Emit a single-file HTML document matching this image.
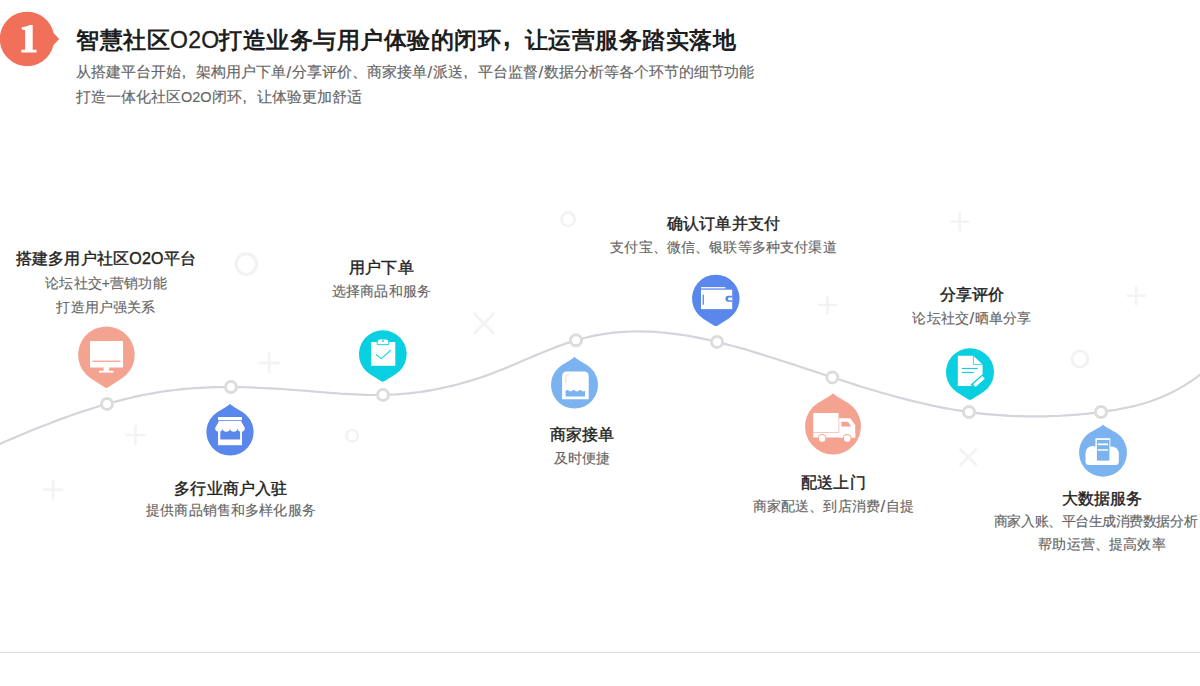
<!DOCTYPE html>
<html><head><meta charset="utf-8"><style>
html,body{margin:0;padding:0;background:#fff;}
body{width:1200px;height:686px;position:relative;overflow:hidden;font-family:"Liberation Sans",sans-serif;}
.title{position:absolute;left:76px;top:24.7px;font-size:23px;line-height:30px;color:#1e1e1e;font-weight:700;letter-spacing:0.5px;white-space:nowrap;}
.sub{position:absolute;left:76px;font-size:14.5px;line-height:20px;color:#666;-webkit-text-stroke:0.15px #666;white-space:nowrap;}
.lt{position:absolute;width:300px;text-align:center;font-size:16.25px;line-height:24px;color:#222;font-weight:400;-webkit-text-stroke:0.4px #222;letter-spacing:0.2px;white-space:nowrap;}
.ls{position:absolute;width:300px;text-align:center;font-size:14px;line-height:22px;color:#666;-webkit-text-stroke:0.15px #666;letter-spacing:0.15px;white-space:nowrap;}
.o2o{font-weight:400;-webkit-text-stroke:0.35px #1e1e1e;letter-spacing:0.3px;}
.cm{display:inline-block;font-size:27px;line-height:10px;width:22px;margin-left:1.5px;position:relative;top:-2px;}
.cm2{display:inline-block;font-size:17px;line-height:10px;width:14.5px;margin-left:0.5px;}
.sl{padding:0 0.6px;font-size:17px;line-height:10px;position:relative;top:1px;}
svg{position:absolute;left:0;top:0;}
.hr{position:absolute;left:0;top:652px;width:1200px;height:1px;background:#dcdcdc;}
</style></head><body>
<svg width="1200" height="686" viewBox="0 0 1200 686">
<circle cx="246.3" cy="264.1" r="10.3" fill="none" stroke="#f2f2f2" stroke-width="3.0"/><circle cx="568.1" cy="219.2" r="6.7" fill="none" stroke="#f2f2f2" stroke-width="2.6"/><circle cx="352.1" cy="435.8" r="5.8" fill="none" stroke="#f2f2f2" stroke-width="2.2"/><circle cx="1079.9" cy="359.0" r="8.0" fill="none" stroke="#f2f2f2" stroke-width="2.6"/><path d="M269.1,352.4v21.0M258.6,362.9h21.0" stroke="#f3f3f3" stroke-width="2.6" fill="none"/><path d="M135.4,425.0v20.0M125.4,435.0h20.0" stroke="#f3f3f3" stroke-width="2.6" fill="none"/><path d="M53.2,479.6v20.0M43.2,489.6h20.0" stroke="#f3f3f3" stroke-width="2.6" fill="none"/><path d="M827.5,295.5v19.0M818.0,305.0h19.0" stroke="#f3f3f3" stroke-width="2.6" fill="none"/><path d="M959.8,212.2v19.0M950.3,221.7h19.0" stroke="#f3f3f3" stroke-width="2.6" fill="none"/><path d="M1136.2,286.2v19.0M1126.7,295.7h19.0" stroke="#f3f3f3" stroke-width="2.6" fill="none"/><path d="M473.5,313.0l21.0,21.0M494.5,313.0l-21.0,21.0" stroke="#f3f3f3" stroke-width="2.8" fill="none"/><path d="M959.8,448.7l17.0,17.0M976.8,448.7l-17.0,17.0" stroke="#f3f3f3" stroke-width="2.8" fill="none"/>
<path d="M-10.0,448.4 C-8.3,447.7 -3.3,445.4 0.0,444.0 C3.3,442.5 6.7,441.0 10.0,439.6 C13.3,438.1 16.7,436.7 20.0,435.3 C23.3,433.9 26.7,432.5 30.0,431.1 C33.3,429.8 36.7,428.4 40.0,427.1 C43.3,425.8 46.7,424.4 50.0,423.2 C53.3,421.9 56.7,420.6 60.0,419.4 C63.3,418.2 66.7,417.0 70.0,415.8 C73.3,414.6 76.7,413.5 80.0,412.3 C83.3,411.2 86.7,410.1 90.0,409.1 C93.3,408.0 96.7,407.0 100.0,406.0 C103.3,405.0 106.7,404.0 110.0,403.1 C113.3,402.2 116.7,401.3 120.0,400.4 C123.3,399.6 126.7,398.7 130.0,398.0 C133.3,397.2 136.7,396.4 140.0,395.7 C143.3,395.0 146.7,394.4 150.0,393.8 C153.3,393.2 156.7,392.6 160.0,392.0 C163.3,391.5 166.7,391.0 170.0,390.6 C173.3,390.2 176.7,389.8 180.0,389.4 C183.3,389.1 186.7,388.8 190.0,388.5 C193.3,388.2 196.7,388.0 200.0,387.8 C203.3,387.6 206.7,387.5 210.0,387.4 C213.3,387.2 216.7,387.2 220.0,387.1 C223.3,387.0 226.7,387.0 230.0,387.0 C233.3,387.0 236.7,387.1 240.0,387.1 C243.3,387.2 246.7,387.3 250.0,387.4 C253.3,387.5 256.7,387.6 260.0,387.8 C263.3,387.9 266.7,388.1 270.0,388.3 C273.3,388.5 276.7,388.7 280.0,388.9 C283.3,389.1 286.7,389.4 290.0,389.6 C293.3,389.9 296.7,390.1 300.0,390.4 C303.3,390.6 306.7,390.9 310.0,391.2 C313.3,391.5 316.7,391.7 320.0,392.0 C323.3,392.3 326.7,392.6 330.0,392.8 C333.3,393.1 336.7,393.3 340.0,393.6 C343.3,393.8 346.7,394.0 350.0,394.2 C353.3,394.4 356.7,394.6 360.0,394.7 C363.3,394.8 366.7,394.9 370.0,395.0 C373.3,395.0 376.7,395.0 380.0,395.0 C383.3,394.9 386.7,394.8 390.0,394.7 C393.3,394.5 396.7,394.4 400.0,394.1 C403.3,393.9 406.7,393.5 410.0,393.2 C413.3,392.8 416.7,392.4 420.0,392.0 C423.3,391.5 426.7,391.0 430.0,390.4 C433.3,389.8 436.7,389.2 440.0,388.5 C443.3,387.8 446.7,387.1 450.0,386.3 C453.3,385.5 456.7,384.7 460.0,383.8 C463.3,382.9 466.7,381.9 470.0,380.9 C473.3,379.9 476.7,378.8 480.0,377.7 C483.3,376.6 486.7,375.4 490.0,374.2 C493.3,372.9 496.7,371.6 500.0,370.3 C503.3,369.0 506.7,367.6 510.0,366.2 C513.3,364.8 516.7,363.4 520.0,361.9 C523.3,360.5 526.7,359.1 530.0,357.7 C533.3,356.2 536.7,354.8 540.0,353.4 C543.3,352.1 546.7,350.7 550.0,349.4 C553.3,348.1 556.7,346.8 560.0,345.6 C563.3,344.4 566.7,343.2 570.0,342.1 C573.3,341.0 576.7,340.0 580.0,339.1 C583.3,338.2 586.7,337.4 590.0,336.6 C593.3,335.9 596.7,335.2 600.0,334.7 C603.3,334.1 606.7,333.6 610.0,333.2 C613.3,332.7 616.7,332.4 620.0,332.1 C623.3,331.9 626.7,331.7 630.0,331.5 C633.3,331.4 636.7,331.4 640.0,331.4 C643.3,331.4 646.7,331.5 650.0,331.6 C653.3,331.8 656.7,332.0 660.0,332.3 C663.3,332.5 666.7,332.9 670.0,333.3 C673.3,333.6 676.7,334.1 680.0,334.6 C683.3,335.1 686.7,335.6 690.0,336.2 C693.3,336.8 696.7,337.4 700.0,338.1 C703.3,338.8 706.7,339.5 710.0,340.2 C713.3,341.0 716.7,341.8 720.0,342.6 C723.3,343.4 726.7,344.3 730.0,345.2 C733.3,346.1 736.7,347.0 740.0,347.9 C743.3,348.9 746.7,349.9 750.0,350.8 C753.3,351.8 756.7,352.8 760.0,353.9 C763.3,354.9 766.7,355.9 770.0,357.0 C773.3,358.0 776.7,359.1 780.0,360.2 C783.3,361.3 786.7,362.3 790.0,363.4 C793.3,364.5 796.7,365.6 800.0,366.7 C803.3,367.8 806.7,368.9 810.0,370.0 C813.3,371.1 816.7,372.2 820.0,373.3 C823.3,374.4 826.7,375.5 830.0,376.6 C833.3,377.7 836.7,378.7 840.0,379.8 C843.3,380.9 846.7,382.0 850.0,383.0 C853.3,384.1 856.7,385.1 860.0,386.2 C863.3,387.2 866.7,388.2 870.0,389.2 C873.3,390.2 876.7,391.2 880.0,392.2 C883.3,393.2 886.7,394.1 890.0,395.0 C893.3,396.0 896.7,396.9 900.0,397.8 C903.3,398.7 906.7,399.5 910.0,400.4 C913.3,401.2 916.7,402.0 920.0,402.8 C923.3,403.6 926.7,404.4 930.0,405.1 C933.3,405.8 936.7,406.5 940.0,407.2 C943.3,407.8 946.7,408.4 950.0,409.0 C953.3,409.6 956.7,410.2 960.0,410.7 C963.3,411.2 966.7,411.7 970.0,412.1 C973.3,412.6 976.7,413.0 980.0,413.4 C983.3,413.8 986.7,414.1 990.0,414.4 C993.3,414.7 996.7,415.0 1000.0,415.2 C1003.3,415.5 1006.7,415.7 1010.0,415.8 C1013.3,416.0 1016.7,416.1 1020.0,416.2 C1023.3,416.3 1026.7,416.4 1030.0,416.4 C1033.3,416.4 1036.7,416.4 1040.0,416.4 C1043.3,416.3 1046.7,416.3 1050.0,416.2 C1053.3,416.1 1056.7,415.9 1060.0,415.8 C1063.3,415.6 1066.7,415.4 1070.0,415.1 C1073.3,414.9 1076.7,414.6 1080.0,414.3 C1083.3,414.0 1086.7,413.7 1090.0,413.3 C1093.3,413.0 1096.7,412.6 1100.0,412.1 C1103.3,411.7 1106.7,411.2 1110.0,410.7 C1113.3,410.2 1116.7,409.7 1120.0,409.0 C1123.3,408.4 1126.7,407.8 1130.0,407.0 C1133.3,406.2 1136.7,405.4 1140.0,404.5 C1143.3,403.6 1146.7,402.6 1150.0,401.5 C1153.3,400.3 1156.7,399.1 1160.0,397.8 C1163.3,396.4 1166.7,395.0 1170.0,393.3 C1173.3,391.7 1176.7,390.0 1180.0,388.1 C1183.3,386.2 1186.7,384.2 1190.0,381.9 C1193.3,379.7 1196.7,377.3 1200.0,374.8 C1203.3,372.2 1208.3,367.9 1210.0,366.5" fill="none" stroke="#d3d5db" stroke-width="2.2"/>
<circle cx="107.0" cy="403.9" r="5.5" fill="#fff" stroke="#dcdcdc" stroke-width="3"/><circle cx="231.0" cy="387.0" r="5.5" fill="#fff" stroke="#dcdcdc" stroke-width="3"/><circle cx="383.0" cy="394.9" r="5.5" fill="#fff" stroke="#dcdcdc" stroke-width="3"/><circle cx="576.0" cy="340.3" r="5.5" fill="#fff" stroke="#dcdcdc" stroke-width="3"/><circle cx="717.0" cy="341.9" r="5.5" fill="#fff" stroke="#dcdcdc" stroke-width="3"/><circle cx="832.3" cy="377.4" r="5.5" fill="#fff" stroke="#dcdcdc" stroke-width="3"/><circle cx="969.0" cy="412.0" r="5.5" fill="#fff" stroke="#dcdcdc" stroke-width="3"/><circle cx="1101.0" cy="412.0" r="5.5" fill="#fff" stroke="#dcdcdc" stroke-width="3"/>
<path transform="translate(106.4,354.8)" d="M-1.84,32.49 L-15.34,23.78 A28.30,28.30 0 1 1 15.34,23.78 L1.84,32.49 Q0,33.68 -1.84,32.49 Z" fill="#f5a391"/><path transform="translate(230.0,432.0) rotate(180)" d="M0,28.32 C1.89,25.96 8.89,22.36 12.85,19.79 A23.60,23.60 0 1 0 -12.85,19.79 C-8.89,22.36 -1.89,25.96 0,28.32 Z" fill="#5a87ec"/><path transform="translate(382.8,354.1)" d="M-1.52,27.19 L-12.66,20.21 A23.85,23.85 0 1 1 12.66,20.21 L1.52,27.19 Q0,28.14 -1.52,27.19 Z" fill="#08d0e0"/><path transform="translate(574.5,385.0) rotate(180)" d="M0,28.20 C1.88,25.85 8.86,22.27 12.80,19.71 A23.50,23.50 0 1 0 -12.80,19.71 C-8.86,22.27 -1.88,25.85 0,28.20 Z" fill="#7bb3f0"/><path transform="translate(715.8,298.5)" d="M-1.52,27.13 L-12.63,20.17 A23.80,23.80 0 1 1 12.63,20.17 L1.52,27.13 Q0,28.08 -1.52,27.13 Z" fill="#5a87ec"/><path transform="translate(833.0,426.5) rotate(180)" d="M0,33.32 C2.24,30.52 10.55,26.53 15.25,23.48 A28.00,28.00 0 1 0 -15.25,23.48 C-10.55,26.53 -2.24,30.52 0,33.32 Z" fill="#f5a391"/><path transform="translate(970.0,372.2)" d="M-1.53,27.36 L-12.74,20.34 A24.00,24.00 0 1 1 12.74,20.34 L1.53,27.36 Q0,28.32 -1.53,27.36 Z" fill="#08d0e0"/><path transform="translate(1103.0,452.7) rotate(180)" d="M0,28.32 C1.92,25.92 9.05,22.74 13.07,20.13 A24.00,24.00 0 1 0 -13.07,20.13 C-9.05,22.74 -1.92,25.92 0,28.32 Z" fill="#7bb3f0"/>

<!-- monitor -->
<g fill="#fff">
<rect x="90" y="341" width="33" height="26.5" rx="0.8"/>
<rect x="103.6" y="367" width="5.6" height="4.2"/>
<rect x="99" y="370.8" width="14.6" height="1.8"/>
</g>
<rect x="92.5" y="360.6" width="28" height="1.3" fill="#f5a391"/>
<!-- store -->
<rect x="218" y="429" width="24" height="16.2" fill="#fff"/>
<rect x="220.3" y="429" width="19.8" height="10.5" fill="#5a87ec"/>
<g fill="#fff">
<rect x="218" y="417" width="24" height="3.2"/>
<path d="M219,421.1 H241 L244.9,428 A3.72,3.72 0 0 1 237.46,428 A3.72,3.72 0 0 1 230.02,428 A3.72,3.72 0 0 1 222.58,428 A3.72,3.72 0 0 1 215.14,428 Z"/>
</g>
<!-- clipboard -->
<rect x="371.2" y="342" width="24.1" height="23.8" fill="#fff"/>
<path d="M377.2,344.6 v-2.6 a3,3 0 0 1 3,-3 h5.6 a3,3 0 0 1 3,3 v2.6 z" fill="#fff" stroke="#08d0e0" stroke-width="0.9"/>
<circle cx="383" cy="341" r="0.9" fill="#08d0e0"/>
<path d="M376,354.2 l5.2,4.6 l9.8,-8.8" fill="none" stroke="#08d0e0" stroke-width="1.2" opacity="0.85"/>
<!-- tub -->
<path d="M562.1,399.2 V376.5 q0,-4.9 4.9,-4.9 h16.8 q4.9,0 4.9,4.9 V399.2 Z" fill="#fff"/>
<path d="M565.6,396.6 V390.8 q1.6,-1.4 3.25,0 t3.25,0 t3.25,0 t3.25,0 t3.25,0 t3.25,0 V396.6 Z" fill="#7bb3f0"/>
<path d="M565.8,383 V377.5 q0,-3 3.8,-3.2" fill="none" stroke="#c8c8c8" stroke-width="0.6"/>
<!-- wallet -->
<rect x="701" y="289.7" width="31.2" height="19.4" fill="#fff"/>
<rect x="701" y="287.1" width="24.4" height="1.3" fill="#fff"/>
<rect x="702.6" y="294.7" width="1.3" height="10" fill="#5a87ec"/>
<path d="M732.2,295.7 H728.5 a3.05,3.05 0 0 0 0,6.1 H732.2 Z" fill="#5a87ec"/>
<path d="M732.2,297.6 H729.3 a1.3,1.3 0 0 0 0,2.6 H732.2 Z" fill="#fff"/>
<!-- truck -->
<g fill="#fff">
<rect x="813.2" y="413" width="25.4" height="19"/>
<path d="M839.2,418.2 H850.3 L855.2,425.2 V437.5 H839.2 Z"/>
<rect x="813.2" y="432.6" width="42" height="4.9"/>
</g>
<path d="M841.4,421.8 H848 L851.2,426.4 H841.4 Z" fill="#f5a391"/>
<circle cx="822.1" cy="438.4" r="4.3" fill="#f5a391"/>
<circle cx="847.2" cy="438.4" r="4.3" fill="#f5a391"/>
<circle cx="822.1" cy="438.4" r="3.3" fill="#fff"/>
<circle cx="847.2" cy="438.4" r="3.3" fill="#fff"/>
<!-- doc -->
<path d="M957.8,355.8 H973.4 L982.6,364.4 V376 L972.5,386.1 H957.8 Z" fill="#fff"/>
<path d="M973.4,355.8 V364.4 H982.6" fill="none" stroke="#08d0e0" stroke-width="0.8"/>
<rect x="961.8" y="367.9" width="15.9" height="1.1" fill="#08d0e0"/>
<rect x="961.8" y="371.9" width="12.2" height="1.1" fill="#08d0e0"/>
<path d="M972.8,387 L984.6,376.6" stroke="#08d0e0" stroke-width="6.5"/>
<path d="M974.3,385.6 L983.6,377.4" stroke="#fff" stroke-width="3.6"/>
<!-- cloud -->
<g fill="#fff"><rect x="1085.5" y="452" width="33.3" height="13" rx="3.5"/><circle cx="1092.8" cy="453.2" r="7.3"/><circle cx="1111.6" cy="453.6" r="7.2"/><rect x="1095.4" y="438.2" width="14.9" height="22"/></g>
<rect x="1096.9" y="439.9" width="12.5" height="20.7" fill="#7bb3f0"/>
<rect x="1097.8" y="443.4" width="10.2" height="1.8" fill="#fff"/>
<rect x="1097.8" y="449.2" width="10.2" height="1.5" fill="#fff"/>

<path d="M27,11.7 A27.2,27.2 0 1 0 53.5,45 L59.2,39 L53.55,33 A27.2,27.2 0 0 0 27,11.7 Z" fill="#f0705a"/>
<path d="M21.8,27.3 Q26.5,26.6 29.8,24.9 H32.7 V49.8 H36.5 V52.4 H21.3 V49.8 H25.1 V30 Q23.5,29.4 21.8,29.4 Z" fill="#fff"/>
</svg>
<div class="title">智慧社区<span class="o2o">O2O</span>打造业务与用户体验的闭环<span class="cm">,</span>让运营服务踏实落地</div>
<div class="sub" style="top:62px">从搭建平台开始<span class="cm2">,</span>架构用户下单<span class="sl">/</span>分享评价、商家接单<span class="sl">/</span>派送<span class="cm2">,</span>平台监督<span class="sl">/</span>数据分析等各个环节的细节功能</div>
<div class="sub" style="top:87px">打造一体化社区O2O闭环<span class="cm2">,</span>让体验更加舒适</div>
<div class="lt" style="left:-44.0px;top:247.3px;font-size:16px">搭建多用户社区O2O平台</div><div class="ls" style="left:-44.0px;top:272.0px">论坛社交+营销功能</div><div class="ls" style="left:-44.0px;top:296.0px">打造用户强关系</div><div class="lt" style="left:81.0px;top:476.3px">多行业商户入驻</div><div class="ls" style="left:81.0px;top:499.0px">提供商品销售和多样化服务</div><div class="lt" style="left:231.5px;top:255.3px">用户下单</div><div class="ls" style="left:231.5px;top:279.5px">选择商品和服务</div><div class="lt" style="left:432.0px;top:422.3px">商家接单</div><div class="ls" style="left:432.0px;top:447.0px">及时便捷</div><div class="lt" style="left:573.5px;top:211.3px">确认订单并支付</div><div class="ls" style="left:573.5px;top:236.0px">支付宝、微信、银联等多种支付渠道</div><div class="lt" style="left:683.5px;top:470.3px">配送上门</div><div class="ls" style="left:683.5px;top:495.0px">商家配送、到店消费<span class="sl">/</span>自提</div><div class="lt" style="left:822.0px;top:282.3px">分享评价</div><div class="ls" style="left:822.0px;top:307.0px">论坛社交<span class="sl">/</span>晒单分享</div><div class="lt" style="left:952.0px;top:485.8px">大数据服务</div><div class="ls" style="left:945.5px;top:509.5px;letter-spacing:-0.45px">商家入账、平台生成消费数据分析</div><div class="ls" style="left:952.0px;top:532.5px">帮助运营、提高效率</div>
<div class="hr"></div>
</body></html>
